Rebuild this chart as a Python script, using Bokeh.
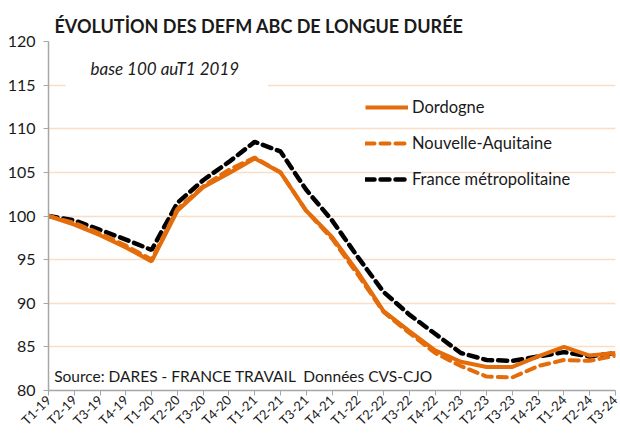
from bokeh.plotting import figure
from bokeh.models import Range1d, FixedTicker, Legend, LegendItem, Label
from bokeh.embed import file_html
from bokeh.resources import INLINE
import math

quarters = ["T1-19", "T2-19", "T3-19", "T4-19", "T1-20", "T2-20", "T3-20", "T4-20",
            "T1-21", "T2-21", "T3-21", "T4-21", "T1-22", "T2-22", "T3-22", "T4-22",
            "T1-23", "T2-23", "T3-23", "T4-23", "T1-24", "T2-24", "T3-24"]
dordogne = [100, 99.0, 97.8, 96.4, 94.8, 100.6, 103.3, 104.9, 106.6, 105.0, 100.6, 97.6,
            93.6, 89.1, 86.8, 84.6, 83.3, 82.7, 82.7, 83.9, 85.0, 84.0, 84.3]
nouvelle_aquitaine = [100, 99.2, 98.0, 96.6, 95.0, 100.8, 103.4, 105.3, 106.7, 105.0, 100.6, 97.4,
                      93.3, 89.0, 86.6, 84.3, 82.8, 81.6, 81.5, 82.8, 83.5, 83.4, 84.0]
france = [100, 99.5, 98.4, 97.3, 96.1, 101.5, 104.1, 106.2, 108.5, 107.4, 103.0, 99.5,
          95.3, 91.3, 88.7, 86.5, 84.3, 83.5, 83.4, 83.9, 84.4, 83.9, 84.3]
y_ticks = [80, 85, 90, 95, 100, 105, 110, 115, 120]

ORANGE = "#E46C0A"
FONT = "Lato"
xs = list(range(len(quarters)))

p = figure(width=620, height=436, output_backend="svg", toolbar_location=None,
           x_range=Range1d(0, len(quarters) - 1), y_range=Range1d(80, 120),
           min_border_left=48, min_border_right=5, min_border_top=41, min_border_bottom=45)
p.outline_line_color = None
p.background_fill_color = "white"

p.title.text = "ÉVOLUTİON DES DEFM ABC DE LONGUE DURÉE"
p.title.text_font = FONT
p.title.text_font_size = "18px"
p.title.text_font_style = "bold"
p.title.text_color = "#1a1a1a"
p.title.align = "left"
p.title.offset = 6
p.title.standoff = 10

p.xgrid.grid_line_color = None
p.ygrid.grid_line_color = "#FBDCC4"
p.ygrid.grid_line_width = 1.5

p.yaxis.ticker = FixedTicker(ticks=y_ticks)
p.xaxis.ticker = FixedTicker(ticks=xs)
p.xaxis.major_label_overrides = {i: q for i, q in enumerate(quarters)}
p.xaxis.major_label_orientation = math.pi / 4
for ax in (p.xaxis, p.yaxis):
    ax.axis_line_color = "#A6A6A6"
    ax.axis_line_width = 1.5
    ax.major_tick_line_color = "#A6A6A6"
    ax.major_tick_out = 5
    ax.major_tick_in = 0
    ax.minor_tick_line_color = None
    ax.major_label_text_font = FONT
    ax.major_label_text_color = "#1a1a1a"
p.yaxis.major_label_text_font_size = "16px"
p.xaxis.major_label_text_font_size = "13px"
p.yaxis.major_label_standoff = 8
p.xaxis.major_label_standoff = 2

r_fr = p.line(xs, france, line_color="black", line_width=4.5, line_dash="9 6", line_cap="round")
r_na = p.line(xs, nouvelle_aquitaine, line_color=ORANGE, line_width=4, line_dash="9 6", line_cap="round")
r_do = p.line(xs, dordogne, line_color=ORANGE, line_width=4)

legend = Legend(items=[LegendItem(label="Dordogne", renderers=[r_do]),
                       LegendItem(label="Nouvelle-Aquitaine", renderers=[r_na]),
                       LegendItem(label="France métropolitaine", renderers=[r_fr])],
                location=(317, 201), background_fill_alpha=0, border_line_color=None,
                padding=0, margin=0, spacing=16, glyph_width=43, glyph_height=20,
                label_height=20, label_standoff=4, label_text_font=FONT,
                label_text_font_size="16.5px", label_text_color="#1a1a1a")
p.add_layout(legend, "center")

p.add_layout(Label(x=0.66, y=116.9, text="base 100  auT1 2019", text_font=FONT,
                   text_font_size="17px", text_font_style="italic", text_baseline="middle",
                   text_color="#1a1a1a", background_fill_color="white",
                   padding=(25, 12)))
p.add_layout(Label(x=0.22, y=81.7, text="Source: DARES - FRANCE TRAVAIL\u00a0\u00a0Données CVS-CJO",
                   text_font=FONT, text_font_size="15.5px", text_baseline="middle",
                   text_color="#1a1a1a"))

open("out.html", "w").write(file_html(p, INLINE))
